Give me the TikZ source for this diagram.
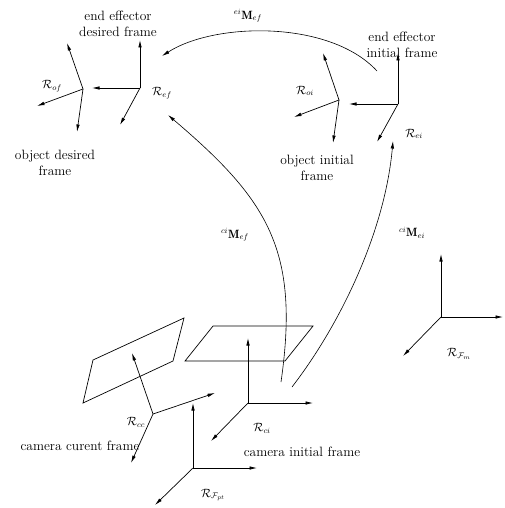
\documentclass[tikz,border=0pt]{standalone}
\usepackage{fontspec}
\usetikzlibrary{arrows.meta}
\tikzset{
 ax/.style={-{Latex[length=7.5pt,width=3.5pt]}, line width=0.7pt},
 trans/.style={-{Latex[length=7.5pt,width=3.5pt]}, line width=0.6pt},
 plane/.style={line width=0.7pt},
 lbl/.style={font=\fontsize{13.5}{15.5}\selectfont, align=center, inner sep=0pt},
 mlbl/.style={font=\fontsize{12}{14}\selectfont, inner sep=0pt},
}
\begin{document}
\begin{tikzpicture}[x=1pt,y=-1pt]
\useasboundingbox (0,0) rectangle (504,508);
% frame origins
\coordinate (Oef) at (140,88);
\coordinate (Oof) at (83,89);
\coordinate (Oei) at (398,104);
\coordinate (Ooi) at (339,100);
\coordinate (Occ) at (153,414);
\coordinate (Oci) at (248,403);
\coordinate (Opt) at (193,468);
\coordinate (Ofm) at (441,317);
% axis tips
\coordinate (ef1) at (140,40);  \coordinate (ef2) at (92,88);   \coordinate (ef3) at (120,125);
\coordinate (of1) at (67,43);   \coordinate (of2) at (37,106);  \coordinate (of3) at (77,132);
\coordinate (ei1) at (398,53);  \coordinate (ei2) at (349,104); \coordinate (ei3) at (377,142);
\coordinate (oi1) at (323,53);  \coordinate (oi2) at (294,117); \coordinate (oi3) at (333,143);
\coordinate (cc1) at (132,353); \coordinate (cc2) at (215,393); \coordinate (cc3) at (131,463);
\coordinate (ci1) at (248,338); \coordinate (ci2) at (313,403); \coordinate (ci3) at (211,441);
\coordinate (pt1) at (193,403); \coordinate (pt2) at (257,468); \coordinate (pt3) at (155,505);
\coordinate (fm1) at (441,254); \coordinate (fm2) at (503,317); \coordinate (fm3) at (403,356);
\foreach \f in {ef,of,ei,oi,cc,ci,pt,fm}{
  \foreach \i in {1,2,3}{ \draw[ax] (O\f) -- (\f\i); }
}
% image planes
\draw[plane] (93,360) -- (184,318) -- (173,361) -- (83,403) -- cycle;
\draw[plane] (213,326) -- (313,326) -- (285,361) -- (185,361) -- cycle;
% transformations
\coordinate (tA0) at (377,71);  \coordinate (tA1) at (162,56);
\coordinate (tB0) at (281,382); \coordinate (tB1) at (168,115);
\coordinate (tC0) at (292,387); \coordinate (tC1) at (393,141);
\draw[trans] (tA0) .. controls (330,20) and (215,22) .. (tA1);
\draw[trans] (tB0) .. controls (300,250) and (268,200) .. (tB1);
\draw[trans] (tC0) .. controls (342,322) and (385,230) .. (tC1);
% texts
\node[lbl] (t1) at (118,24) {end effector\\desired frame};
\node[lbl] (t2) at (402,45) {end effector\\initial frame};
\node[lbl] (t3) at (55,163) {object desired\\frame};
\node[lbl] (t4) at (317,168) {object initial\\frame};
\node[lbl] (t5) at (80,446) {camera curent frame};
\node[lbl] (t6) at (302,452) {camera initial frame};
% frame labels
\node[mlbl] (r1) at (162,93) {$\mathcal{R}_{ef}$};
\node[mlbl] (r2) at (52,86) {$\mathcal{R}_{of}$};
\node[mlbl] (r3) at (305,91) {$\mathcal{R}_{oi}$};
\node[mlbl] (r4) at (414,134) {$\mathcal{R}_{ei}$};
\node[mlbl] (r5) at (136,422) {$\mathcal{R}_{cc}$};
\node[mlbl] (r6) at (262,428) {$\mathcal{R}_{ci}$};
\node[mlbl] (r7) at (213,495) {$\mathcal{R}_{\mathcal{F}_{pt}}$};
\node[mlbl] (r8) at (459,354) {$\mathcal{R}_{\mathcal{F}_{m}}$};
% matrix labels
\node[mlbl] (m1) at (248,16) {${}^{ei}\mathbf{M}_{ef}$};
\node[mlbl] (m2) at (235,235) {${}^{ci}\mathbf{M}_{ef}$};
\node[mlbl] (m3) at (412,233) {${}^{ci}\mathbf{M}_{ei}$};
\end{tikzpicture}
\end{document}
